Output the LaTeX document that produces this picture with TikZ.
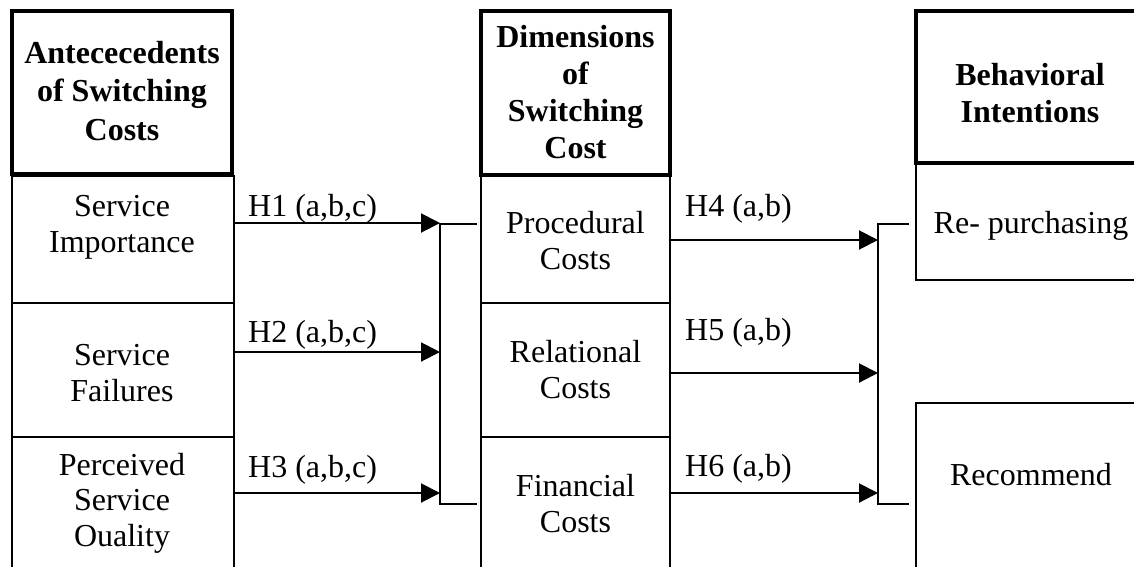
\documentclass[tikz,border=0pt]{standalone}
\usepackage{fontspec}
\setmainfont{Liberation Serif}
\usetikzlibrary{arrows.meta}
\begin{document}
\begin{tikzpicture}[x=1pt,y=-1pt,
  hdr/.style={draw,line width=4pt,inner sep=0pt},
  cellbox/.style={draw,line width=2pt,inner sep=0pt},
  htext/.style={align=center,inner sep=0pt,font=\fontsize{32}{38.5}\selectfont\bfseries,anchor=base},
  ctext/.style={align=center,inner sep=0pt,font=\fontsize{32}{35.5}\selectfont,anchor=base},
  hlab/.style={inner sep=0pt,font=\fontsize{32}{35.5}\selectfont,anchor=base west},
  arr/.style={line width=2pt,-{Triangle[length=19pt,width=19pt]}},
  brk/.style={line width=1.5pt}]
\useasboundingbox (0,0) rectangle (1134,566);
\fill[white] (0,0) rectangle (1134,566);
\clip (0,0) rectangle (1134,566);
% column 1
\node[cellbox,minimum width=222pt,minimum height=127pt] (a1) at (123,239.5) {};
\node[cellbox,minimum width=222pt,minimum height=134pt] (a2) at (123,370) {};
\node[cellbox,minimum width=222pt,minimum height=138pt] (a3) at (123,506) {};
\node[hdr,minimum width=220.5pt,minimum height=163.5pt] (ah) at (121.75,92.25) {};
% column 2
\node[cellbox,minimum width=189pt,minimum height=127pt] (d1) at (575.5,239.5) {};
\node[cellbox,minimum width=189pt,minimum height=134pt] (d2) at (575.5,370) {};
\node[cellbox,minimum width=189pt,minimum height=138pt] (d3) at (575.5,506) {};
\node[hdr,minimum width=189pt,minimum height=164.5pt] (dh) at (575.5,92.75) {};
% column 3
\node[cellbox,minimum width=229pt,minimum height=117pt] (r1) at (1030.5,221.5) {};
\node[cellbox,minimum width=229pt,minimum height=172pt] (r2) at (1030.5,489) {};
\node[hdr,minimum width=229pt,minimum height=152pt] (bh) at (1030.5,86.5) {};
% header texts (anchor = baseline of last line)
\node[htext] (aht) at (122,140) {Antececedents\\of Switching\\Costs};
\node[htext,font=\fontsize{32}{36.7}\selectfont\bfseries] (dht) at (575.5,158) {Dimensions\\of\\Switching\\Cost};
\node[htext,font=\fontsize{32}{37}\selectfont\bfseries] (bht) at (1030,122) {Behavioral\\Intentions};
% cell texts
\node[ctext] (a1t) at (122,252) {Service\\Importance};
\node[ctext] (a2t) at (122,401) {Service\\Failures};
\node[ctext] (a3t) at (122,546) {Perceived\\Service\\Ouality};
\node[ctext] (d1t) at (575.5,269) {Procedural\\Costs};
\node[ctext] (d2t) at (575.5,398) {Relational\\Costs};
\node[ctext] (d3t) at (575.5,532) {Financial\\Costs};
\node[ctext] (r1t) at (1031,233) {Re- purchasing};
\node[ctext] (r2t) at (1031,485) {Recommend};
% left connectors
\coordinate (j1) at (440,223);
\coordinate (j2) at (440,352);
\coordinate (j3) at (440,493);
\coordinate (lt) at (440,224);
\coordinate (lb) at (440,504);
\coordinate (lte) at (477,224);
\coordinate (lbe) at (477,504);
\draw[arr] (a1.east |- j1) -- (j1);
\draw[arr] (a2.east |- j2) -- (j2);
\draw[arr] (a3.east |- j3) -- (j3);
\draw[brk] (lte) -- (lt) -- (lb) -- (lbe);
\node[hlab] (h1) at (248,216) {H1 (a,b,c)};
\node[hlab] (h2) at (248,342) {H2 (a,b,c)};
\node[hlab] (h3) at (248,477) {H3 (a,b,c)};
% right connectors
\coordinate (k1) at (878,240);
\coordinate (k2) at (878,373);
\coordinate (k3) at (878,493);
\coordinate (rt) at (878,224);
\coordinate (rb) at (878,504);
\coordinate (rte) at (909,224);
\coordinate (rbe) at (909,504);
\draw[arr] (d1.east |- k1) -- (k1);
\draw[arr] (d2.east |- k2) -- (k2);
\draw[arr] (d3.east |- k3) -- (k3);
\draw[brk] (rte) -- (rt) -- (rb) -- (rbe);
\node[hlab] (h4) at (685,216) {H4 (a,b)};
\node[hlab] (h5) at (685,340) {H5 (a,b)};
\node[hlab] (h6) at (685,476) {H6 (a,b)};
\end{tikzpicture}
\end{document}
